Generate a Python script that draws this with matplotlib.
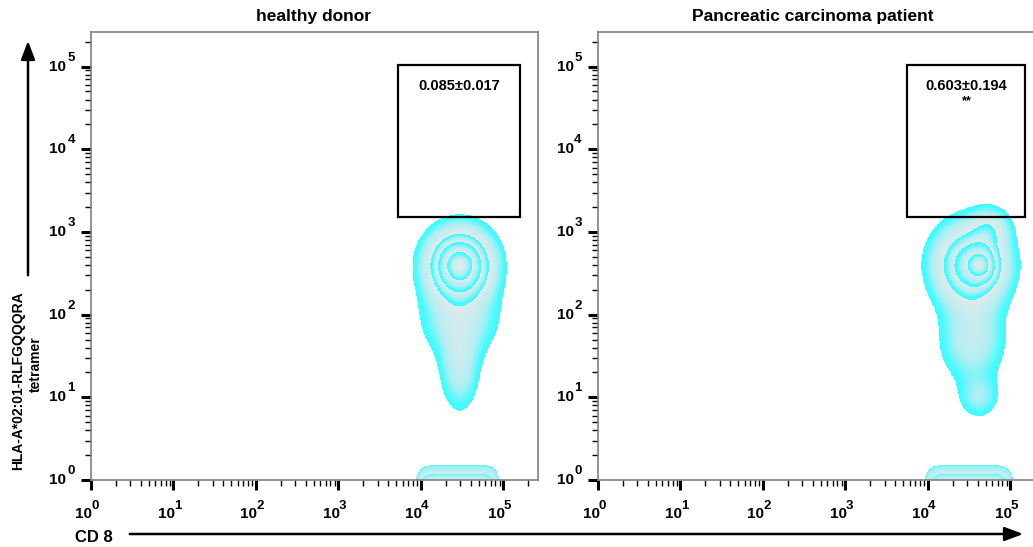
import numpy as np
import matplotlib
matplotlib.use('Agg')
import matplotlib.pyplot as plt
from matplotlib.colors import LinearSegmentedColormap
from matplotlib.ticker import FixedLocator, LogLocator, NullFormatter
from matplotlib.patches import Rectangle, FancyArrowPatch

plt.rcParams.update({'font.family': 'Liberation Sans',
                     'font.weight': 'bold'})

# ---- data ----
panel_titles = ['healthy donor', 'Pancreatic carcinoma patient']
gate_stats = ['0.085\u00b10.017', '0.603\u00b10.194']
gate_marks = ['', '**']
gate_x = [[5250, 158000], [5600, 152000]]   # CD8 range of tetramer gate
gate_y = [1510, 105000]                     # tetramer range of gate
decades = [0, 1, 2, 3, 4, 5]
axis_max = 262144

# CD8+ population as components in log10 space:
# (log CD8, log tetramer, sd CD8, sd tetramer, weight)
healthy_main = [(4.47, 2.60, 0.24, 0.26, 1.00),
                (4.47, 1.95, 0.30, 0.30, 0.20),
                (4.47, 1.35, 0.15, 0.33, 0.20)]
patient_main = [(4.52, 2.60, 0.27, 0.30, 1.00),
                (4.66, 2.60, 0.12, 0.14, 0.50),
                (4.75, 3.05, 0.15, 0.15, 0.30),
                (4.54, 1.70, 0.25, 0.33, 0.30),
                (4.62, 1.00, 0.16, 0.17, 0.19)]
# events piled on the axis floor: log CD8 range
healthy_floor = (3.93, 4.96)
patient_floor = (3.95, 5.04)

main_levels = [0.06, 0.34, 0.55, 0.82, 1.01]
floor_levels = [0.06, 0.35, 0.7, 1.01]

main_cmap = LinearSegmentedColormap.from_list(
    'band', [(0, '#3ffcff'), (0.2, '#48fbff'), (0.55, '#aeeef2'), (1, '#e2eaeb')])
floor_cmap = LinearSegmentedColormap.from_list(
    'floor', [(0, '#4ff7fc'), (0.3, '#9ff0f3'), (1, '#c8f1f3')])

U, V = np.meshgrid(np.linspace(3.0, 5.6, 520), np.linspace(-0.6, 4.0, 900))


def mixture(comps):
    z = np.zeros_like(U)
    for u0, v0, su, sv, w in comps:
        z += w * np.exp(-0.5 * (((U - u0) / su) ** 2 + ((V - v0) / sv) ** 2))
    return z / z.max()


def floor_density(rng):
    mid = 0.5 * (rng[0] + rng[1])
    half = 0.5 * (rng[1] - rng[0])
    z = np.exp(-np.log(1 / 0.06) * np.abs((U - mid) / half) ** 8)
    z *= np.exp(-0.5 * ((V + 0.1) / 0.12) ** 2)
    return z / z.max()


def band_position(z, levels):
    # position inside each contour band: 0 at its outer edge, 1 at its inner edge
    lv = np.log(levels)
    lz = np.log(np.clip(z, 1e-12, None))
    k = np.clip(np.searchsorted(lv, lz) - 1, 0, len(lv) - 2)
    t = (lz - lv[k]) / (lv[k + 1] - lv[k])
    return np.ma.masked_where(z < levels[0], np.clip(t, 0, 1))


fig = plt.figure(figsize=(10.33, 5.47), dpi=100)
ax_w, ax_h, ax_b = 447 / 1033, 448 / 547, 67 / 547
lefts = [91 / 1033, 598 / 1033]
title_x = [313, 813]

mains = [healthy_main, patient_main]
floors = [healthy_floor, patient_floor]
X, Y = 10 ** U, 10 ** V

for i in range(2):
    ax = fig.add_axes([lefts[i], ax_b, ax_w, ax_h])

    ax.pcolormesh(X, Y, band_position(mixture(mains[i]), main_levels),
                  cmap=main_cmap, vmin=0, vmax=1, shading='nearest', rasterized=True)
    ax.pcolormesh(X, Y, band_position(floor_density(floors[i]), floor_levels),
                  cmap=floor_cmap, vmin=0, vmax=1, shading='nearest', rasterized=True)

    gx = gate_x[i]
    ax.add_patch(Rectangle((gx[0], gate_y[0]), gx[1] - gx[0], gate_y[1] - gate_y[0],
                           fill=False, edgecolor='black', linewidth=1.6, zorder=5))
    xc = np.sqrt(gx[0] * gx[1])
    ax.text(xc, 10 ** 4.76, gate_stats[i], ha='center', va='center', fontsize=10.5)
    if gate_marks[i]:
        ax.text(xc, 10 ** 4.58, gate_marks[i], ha='center', va='center', fontsize=9)

    ax.set_xscale('log')
    ax.set_yscale('log')
    ax.set_xlim(1, axis_max)
    ax.set_ylim(1, axis_max)
    for axis in (ax.xaxis, ax.yaxis):
        axis.set_major_locator(FixedLocator([10.0 ** d for d in decades]))
        axis.set_minor_locator(LogLocator(base=10, subs=np.arange(2, 10), numticks=20))
        axis.set_major_formatter(NullFormatter())
        axis.set_minor_formatter(NullFormatter())
    ax.tick_params(which='major', direction='out', length=7, width=2.2, color='black')
    ax.tick_params(which='minor', direction='out', length=4, width=1, color='black')
    for s in ax.spines.values():
        s.set_color('#808080')
        s.set_linewidth(1.2)

    # tick labels "10" with a large exponent
    for d in decades:
        ax.annotate('10', xy=(10.0 ** d, 0), xycoords=('data', 'axes fraction'),
                    xytext=(-7, -34), textcoords='offset pixels',
                    ha='center', va='center', fontsize=11)
        ax.annotate(str(d), xy=(10.0 ** d, 0), xycoords=('data', 'axes fraction'),
                    xytext=(4, -26), textcoords='offset pixels',
                    ha='center', va='center', fontsize=9.5)
        ax.annotate('10', xy=(0, 10.0 ** d), xycoords=('axes fraction', 'data'),
                    xytext=(-33, 0), textcoords='offset pixels',
                    ha='center', va='center', fontsize=11)
        ax.annotate(str(d), xy=(0, 10.0 ** d), xycoords=('axes fraction', 'data'),
                    xytext=(-20, 9), textcoords='offset pixels',
                    ha='center', va='center', fontsize=9.5)

    fig.text(title_x[i] / 1033, 1 - 17 / 547, panel_titles[i], ha='center',
             va='center', fontsize=12.5, fontweight='bold')

# axis labels with arrows
fig.text(18 / 1033, 1 - 381 / 547, 'HLA-A*02:01-RLFGQQQRA', rotation=90,
         ha='center', va='center', fontsize=10)
fig.text(36 / 1033, 1 - 364 / 547, 'tetramer', rotation=90,
         ha='center', va='center', fontsize=10)
fig.text(94 / 1033, 1 - 537 / 547, 'CD 8', ha='center', va='center', fontsize=12)

fig.add_artist(FancyArrowPatch((28 / 1033, 1 - 278 / 547), (28 / 1033, 1 - 38 / 547),
                               transform=fig.transFigure, arrowstyle='-|>,head_length=0.8,head_width=0.3',
                               mutation_scale=14, linewidth=1.8, color='black'))
fig.add_artist(FancyArrowPatch((127 / 1033, 1 - 534 / 547), (1026 / 1033, 1 - 534 / 547),
                               transform=fig.transFigure, arrowstyle='-|>,head_length=0.8,head_width=0.3',
                               mutation_scale=14, linewidth=1.8, color='black'))

fig.savefig('out.png', dpi=100)
